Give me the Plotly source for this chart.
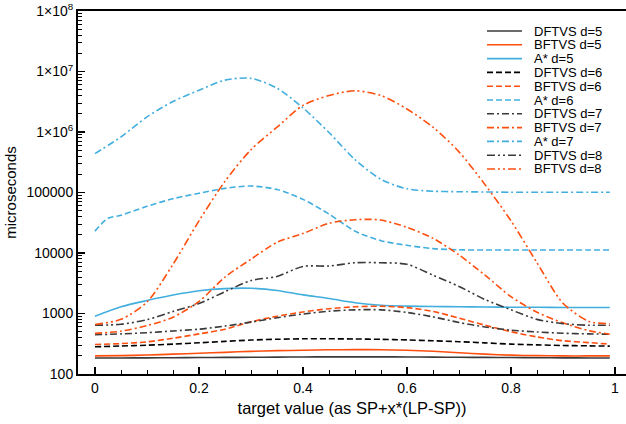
import plotly.graph_objects as go

# ---------------- data ----------------
X = [0, 0.05, 0.10, 0.15, 0.20, 0.25, 0.30, 0.35, 0.40, 0.45, 0.50,
     0.55, 0.60, 0.65, 0.70, 0.75, 0.80, 0.85, 0.90, 0.95, 0.99]
# A* d=6 has a sharp step right after x=0, so it carries one extra sample
X_ASTAR_D6 = [0, 0.025, 0.05, 0.10, 0.15, 0.20, 0.25, 0.30, 0.35, 0.40, 0.45, 0.50,
              0.55, 0.60, 0.65, 0.70, 0.75, 0.80, 0.85, 0.90, 0.95, 0.99]

DFTVS_D5 = [184, 184, 185, 186, 187, 188, 189, 190, 191, 192, 192,
            192, 191, 190, 189, 188, 187, 186, 185, 184, 184]
BFTVS_D5 = [199, 201, 206, 213, 220, 228, 237, 243, 247, 251, 253,
            252, 247, 238, 225, 213, 205, 201, 199, 199, 199]
ASTAR_D5 = [900, 1290, 1640, 2020, 2380, 2580, 2610, 2400, 2030, 1770, 1510,
            1370, 1325, 1305, 1290, 1280, 1270, 1265, 1260, 1260, 1260]
DFTVS_D6 = [282, 290, 299, 312, 328, 346, 364, 375, 382, 382, 379,
            374, 366, 354, 342, 327, 312, 303, 296, 292, 289]
BFTVS_D6 = [308, 318, 340, 390, 460, 550, 730, 900, 1060, 1200, 1290,
            1320, 1250, 1080, 840, 640, 500, 410, 355, 330, 312]
ASTAR_D6 = [23000, 37500, 42000, 59000, 79000, 97000, 117000, 128000, 112000, 77000, 44000, 23000,
            16000, 13400, 11800, 11300, 11200, 11200, 11200, 11200, 11200, 11200]
DFTVS_D7 = [445, 460, 482, 515, 550, 620, 720, 850, 980, 1090, 1150,
            1150, 1040, 880, 710, 600, 530, 495, 472, 460, 455]
BFTVS_D7 = [470, 510, 630, 870, 1580, 4000, 7900, 15000, 21000, 31000, 35500,
            35000, 26500, 17500, 9300, 4300, 1900, 1050, 700, 520, 455]
ASTAR_D7 = [440000, 830000, 1.78e6, 3.2e6, 4.9e6, 7.2e6, 7.7e6, 5.3e6, 2.5e6, 980000, 350000,
            165000, 115000, 105000, 103000, 102000, 101000, 101000, 101000, 101000, 101000]
DFTVS_D8 = [640, 665, 790, 1080, 1460, 2300, 3500, 4100, 6000, 6100, 6900,
            6900, 6500, 4300, 2800, 1700, 1150, 800, 680, 640, 640]
BFTVS_D8 = [660, 800, 1550, 6500, 34000, 153000, 510000, 1.2e6, 2.75e6, 4.0e6, 4.8e6,
            4.0e6, 2.4e6, 1.2e6, 470000, 135000, 34000, 6900, 1480, 740, 680]

NAMES = ["DFTVS d=5", "BFTVS d=5", "A* d=5",
         "DFTVS d=6", "BFTVS d=6", "A* d=6",
         "DFTVS d=7", "BFTVS d=7", "A* d=7",
         "DFTVS d=8", "BFTVS d=8"]
XS = [X, X, X,
      X, X, X_ASTAR_D6,
      X, X, X,
      X, X]
VALUES = [DFTVS_D5, BFTVS_D5, ASTAR_D5,
          DFTVS_D6, BFTVS_D6, ASTAR_D6,
          DFTVS_D7, BFTVS_D7, ASTAR_D7,
          DFTVS_D8, BFTVS_D8]

X_TICKS = [0, 0.2, 0.4, 0.6, 0.8, 1]
X_TICK_TEXT = ["0", "0.2", "0.4", "0.6", "0.8", "1"]
Y_TICKS = [1e2, 1e3, 1e4, 1e5, 1e6, 1e7, 1e8]
Y_TICK_TEXT = ["100", "1000", "10000", "100000",
               "1×10<sup>6</sup>", "1×10<sup>7</sup>", "1×10<sup>8</sup>"]

# ---------------- styles ----------------
DARK = "#3a3a3a"
BLACK = "#000000"
ORANGE = "#ff4f0f"
BLUE = "#41aede"
DASHED = "6px,3px"
DASHDOT = "7px,3px,2px,3px"
DASHDOTDOT = "8px,3px,2px,3px,2px,3px"
STYLES = [(DARK, "solid"), (ORANGE, "solid"), (BLUE, "solid"),
          (BLACK, DASHED), (ORANGE, DASHED), (BLUE, DASHED),
          (DARK, DASHDOT), (ORANGE, DASHDOT), (BLUE, DASHDOT),
          (DARK, DASHDOTDOT), (ORANGE, DASHDOTDOT)]

FONT = "Liberation Sans, Arial, Helvetica, sans-serif"
W, H = 626, 424
ML, MR, MT, MB = 78, 0, 11, 50

fig = go.Figure()
for name, xs, ys, (color, dash) in zip(NAMES, XS, VALUES, STYLES):
    fig.add_trace(go.Scatter(
        x=xs, y=ys, mode="lines", name=name, showlegend=False, cliponaxis=True,
        hoverinfo="skip",
        line=dict(color=color, width=1.6, dash=dash, shape="spline", smoothing=0.8),
    ))

# manual legend (compact rows, as in the reference)
plot_w = W - ML - MR
plot_h = H - MT - MB
def px_to_paper(px, py):
    return (px - ML) / plot_w, (H - MB - py) / plot_h

shapes = []
annotations = []
for i, (name, (color, dash)) in enumerate(zip(NAMES, STYLES)):
    py = 31 + i * 13.8
    x0, yy = px_to_paper(487, py)
    x1, _ = px_to_paper(522, py)
    shapes.append(dict(type="line", xref="paper", yref="paper", x0=x0, x1=x1, y0=yy, y1=yy,
                       line=dict(color=color, width=1.6, dash=dash)))
    xt, _ = px_to_paper(533, py)
    annotations.append(dict(xref="paper", yref="paper", x=xt, y=yy, text=name, showarrow=False,
                            xanchor="left", yanchor="middle", borderpad=0,
                            font=dict(family=FONT, size=13, color="black")))

# x range so that 0 -> px 95 and 1 -> px 615
x_lo = (ML - 95) / 520
x_hi = (W - MR - 95) / 520

minor_y = [m * 10 ** e for e in range(2, 8) for m in range(2, 10)]

fig.update_layout(
    width=W, height=H, autosize=False,
    margin=dict(l=ML, r=MR, t=MT, b=MB, autoexpand=False),
    paper_bgcolor="white", plot_bgcolor="white",
    font=dict(family=FONT, size=14, color="black"),
    shapes=shapes, annotations=annotations,
    xaxis=dict(
        range=[x_lo, x_hi], tickmode="array", tickvals=X_TICKS, ticktext=X_TICK_TEXT,
        ticks="inside", ticklen=7, tickwidth=1.5, tickcolor="black",
        showline=True, linecolor="black", linewidth=2, mirror=True,
        showgrid=False, zeroline=False, automargin=False,
        tickfont=dict(size=14),
        minor=dict(ticks="inside", ticklen=4, tickwidth=1, tickcolor="black",
                   dtick=0.05, tick0=0, showgrid=False),
        title=dict(text="target value (as SP+x*(LP-SP))", font=dict(size=16.5), standoff=8),
    ),
    yaxis=dict(
        type="log", range=[2, 8], tickmode="array", tickvals=Y_TICKS, ticktext=Y_TICK_TEXT,
        ticks="inside", ticklen=7, tickwidth=1.5, tickcolor="black",
        showline=True, linecolor="black", linewidth=2, mirror=False,
        showgrid=False, zeroline=False, automargin=False,
        tickfont=dict(size=14),
        minor=dict(ticks="inside", ticklen=4, tickwidth=1, tickcolor="black",
                   tickmode="array", tickvals=minor_y, showgrid=False),
        title=dict(text="microseconds", font=dict(size=15), standoff=6),
    ),
)

fig.write_html(
    "out.html",
    config={"displayModeBar": False, "staticPlot": True},
    post_script="document.body.style.margin='0';document.body.style.overflow='hidden';",
)
